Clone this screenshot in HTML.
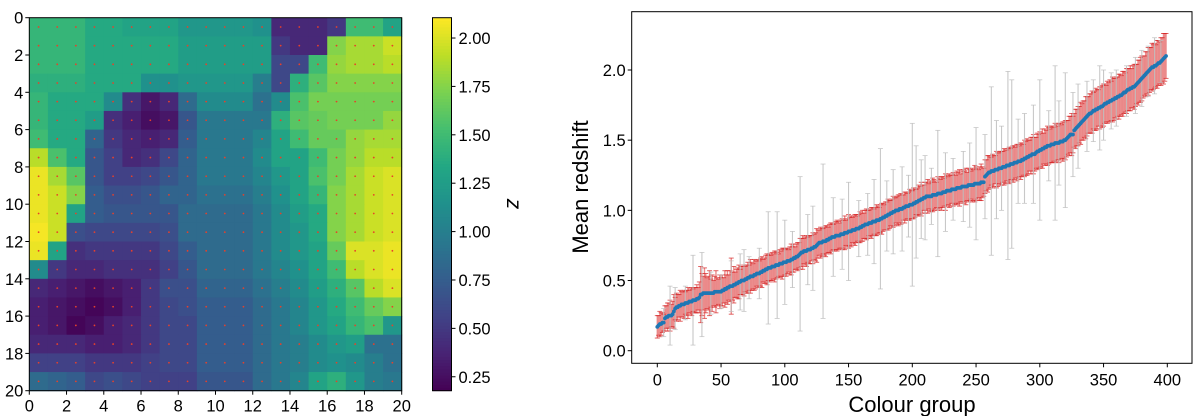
<!DOCTYPE html>
<html><head><meta charset="utf-8"><style>
html,body{margin:0;padding:0;background:#fff;}
svg{display:block;font-family:"Liberation Sans","DejaVu Sans",sans-serif;}
</style></head><body>
<svg id="fig" width="1200" height="416" viewBox="0 0 1200 416">
<g id="heat"></g>
<g id="cbar"></g>
<g id="right"></g>
</svg>
<script>
// ---------- heatmap data (rows 0..19 top->bottom, cols 0..19) ----------
const gridRows = [
[1.45,1.45,1.45,1.35,1.35,1.3,1.3,1.3,1.2,1.2,1.2,1.2,1.15,0.4,0.4,0.4,0.5,1.5,1.5,1.3],
[1.45,1.45,1.45,1.35,1.35,1.35,1.35,1.35,1.25,1.25,1.25,1.25,1.25,0.5,0.4,0.4,1.75,1.85,1.85,1.95],
[1.45,1.45,1.45,1.35,1.35,1.35,1.35,1.35,1.25,1.25,1.25,1.25,1.25,0.6,0.6,1.5,1.8,1.85,1.85,1.9],
[1.4,1.4,1.4,1.35,1.35,1.35,1.15,1.15,1.2,1.2,1.2,1.2,1.0,0.6,1.4,1.6,1.75,1.75,1.75,1.75],
[1.45,1.35,1.35,1.35,1.1,0.45,0.3,0.4,0.85,1.1,1.1,1.1,0.9,1.1,1.55,1.7,1.7,1.7,1.7,1.7],
[1.45,1.35,1.35,1.25,0.45,0.35,0.25,0.3,0.7,0.95,0.95,0.95,0.95,1.4,1.6,1.65,1.7,1.7,1.7,1.8],
[1.5,1.35,1.35,0.8,0.5,0.4,0.35,0.4,0.75,0.95,0.95,0.95,1.05,1.3,1.5,1.65,1.65,1.8,1.85,1.85],
[1.9,1.55,1.35,0.7,0.55,0.4,0.45,0.6,0.8,0.95,0.95,0.95,1.1,1.3,1.3,1.5,1.7,1.8,1.9,1.9],
[2.05,1.85,1.6,0.7,0.55,0.55,0.6,0.7,0.8,0.95,0.95,0.95,1.05,1.2,1.3,1.55,1.7,1.85,1.95,2.0],
[2.05,1.95,1.75,0.75,0.65,0.65,0.7,0.8,0.8,0.9,0.9,0.9,1.0,1.15,1.3,1.45,1.75,1.85,1.95,2.0],
[2.05,1.95,1.3,0.75,0.7,0.7,0.7,0.7,0.85,0.85,0.85,0.85,0.95,1.1,1.25,1.35,1.75,1.85,1.95,2.0],
[2.08,1.95,0.65,0.6,0.6,0.6,0.6,0.65,0.85,0.85,0.85,0.85,0.95,1.1,1.2,1.35,1.75,1.85,1.95,2.0],
[2.05,1.3,0.45,0.5,0.5,0.5,0.5,0.6,0.75,0.85,0.85,0.85,0.95,1.1,1.2,1.3,1.65,2.0,2.0,2.05],
[1.1,0.5,0.4,0.4,0.45,0.45,0.45,0.55,0.7,0.85,0.85,0.85,0.95,1.05,1.15,1.3,1.5,1.9,2.0,2.05],
[0.4,0.35,0.3,0.25,0.3,0.35,0.5,0.65,0.65,0.8,0.8,0.8,0.9,1.0,1.1,1.25,1.4,1.6,1.9,2.0],
[0.35,0.3,0.25,0.2,0.25,0.35,0.5,0.6,0.65,0.75,0.75,0.75,0.85,0.95,1.05,1.2,1.35,1.5,1.65,1.75],
[0.35,0.3,0.2,0.25,0.35,0.4,0.5,0.6,0.6,0.75,0.75,0.75,0.85,0.95,1.05,1.2,1.3,1.45,1.55,1.2],
[0.4,0.4,0.4,0.35,0.35,0.4,0.5,0.6,0.6,0.75,0.75,0.75,0.85,0.95,1.0,1.1,1.2,1.25,0.9,0.9],
[0.55,0.55,0.55,0.5,0.5,0.5,0.55,0.6,0.6,0.75,0.75,0.75,0.85,0.95,1.0,1.1,1.15,1.1,1.0,0.9],
[0.85,0.8,0.75,0.6,0.65,0.6,0.55,0.55,0.55,0.7,0.7,0.7,0.85,0.95,1.05,1.3,1.4,1.2,1.0,0.95]
];
const heatTicks = [0,2,4,6,8,10,12,14,16,18,20];
const cbarTicks = [0.25,0.5,0.75,1.0,1.25,1.5,1.75,2.0];
const cbarLabels = ["0.25","0.50","0.75","1.00","1.25","1.50","1.75","2.00"];

// ---------- right chart data ----------
const meanZ = [
0.17,0.18,0.19,0.19,0.2,0.2,0.23,0.24,0.24,0.25,
0.25,0.25,0.26,0.28,0.3,0.31,0.31,0.32,0.32,0.33,
0.33,0.33,0.34,0.34,0.34,0.35,0.35,0.35,0.36,0.36,
0.36,0.37,0.37,0.38,0.4,0.4,0.41,0.41,0.41,0.41,
0.41,0.41,0.41,0.41,0.41,0.42,0.42,0.42,0.42,0.42,
0.42,0.43,0.43,0.44,0.44,0.45,0.45,0.46,0.46,0.46,
0.47,0.47,0.48,0.48,0.49,0.49,0.5,0.5,0.5,0.51,
0.51,0.52,0.52,0.53,0.53,0.53,0.54,0.54,0.55,0.55,
0.55,0.56,0.56,0.57,0.57,0.58,0.58,0.59,0.59,0.59,
0.6,0.6,0.6,0.61,0.61,0.61,0.62,0.62,0.62,0.63,
0.63,0.63,0.64,0.64,0.64,0.65,0.65,0.66,0.66,0.67,
0.67,0.68,0.69,0.7,0.7,0.71,0.71,0.71,0.72,0.72,
0.72,0.73,0.73,0.74,0.74,0.75,0.76,0.77,0.77,0.77,
0.78,0.78,0.78,0.79,0.79,0.8,0.8,0.81,0.81,0.81,
0.82,0.82,0.82,0.82,0.83,0.83,0.83,0.84,0.84,0.84,
0.85,0.85,0.85,0.86,0.86,0.86,0.87,0.87,0.87,0.88,
0.88,0.89,0.89,0.9,0.9,0.9,0.91,0.91,0.91,0.92,
0.92,0.92,0.93,0.93,0.93,0.94,0.94,0.95,0.95,0.96,
0.96,0.97,0.97,0.98,0.98,0.99,0.99,1.0,1.0,1.0,
1.01,1.01,1.01,1.02,1.02,1.03,1.03,1.03,1.04,1.04,
1.04,1.05,1.05,1.06,1.06,1.07,1.07,1.08,1.08,1.09,
1.09,1.1,1.1,1.1,1.1,1.1,1.11,1.11,1.11,1.11,
1.12,1.12,1.12,1.12,1.13,1.13,1.13,1.14,1.14,1.14,
1.14,1.15,1.15,1.15,1.15,1.16,1.16,1.16,1.16,1.17,
1.17,1.17,1.17,1.17,1.18,1.18,1.18,1.18,1.18,1.19,
1.19,1.19,1.19,1.19,1.2,1.2,1.2,1.24,1.25,1.26,
1.27,1.27,1.28,1.28,1.28,1.29,1.29,1.29,1.3,1.3,
1.3,1.31,1.31,1.31,1.32,1.32,1.32,1.33,1.33,1.33,
1.34,1.34,1.34,1.35,1.35,1.35,1.36,1.36,1.37,1.37,
1.38,1.38,1.39,1.39,1.4,1.4,1.4,1.41,1.42,1.42,
1.43,1.43,1.44,1.44,1.45,1.45,1.46,1.46,1.46,1.47,
1.47,1.47,1.48,1.48,1.48,1.48,1.49,1.49,1.49,1.5,
1.5,1.51,1.52,1.53,1.54,1.54,1.54,1.57,1.58,1.59,
1.6,1.61,1.62,1.63,1.64,1.65,1.66,1.67,1.68,1.69,
1.69,1.7,1.71,1.71,1.72,1.72,1.73,1.73,1.74,1.74,
1.75,1.76,1.76,1.77,1.77,1.78,1.78,1.79,1.79,1.8,
1.8,1.81,1.81,1.82,1.82,1.83,1.84,1.84,1.85,1.86,
1.86,1.87,1.87,1.88,1.88,1.89,1.9,1.91,1.92,1.93,
1.94,1.95,1.96,1.97,1.98,1.99,2.0,2.01,2.02,2.02,
2.03,2.03,2.04,2.05,2.05,2.06,2.07,2.08,2.09,2.1
];
// red error half-widths, in hundredths of redshift (400 values)
const redErr = [
8,7,9,8,7,6,9,8,10,9, 11,8,9,12,8,10,9,8,11,9, 9,10,8,9,11,8,9,10,8,9,
9,10,8,11,20,15,12,18,14,11, 12,16,10,13,9,11,15,10,9,12, 10,11,9,13,10,12,9,11,20,10,
13,9,10,11,12,9,10,10,11,9, 10,11,9,12,10,9,11,10,9,10, 9,10,11,8,9,10,11,9,10,9,
10,9,11,10,9,8,10,9,11,10, 9,10,9,8,10,11,9,10,8,9, 10,9,11,10,12,9,10,11,9,10,
10,9,11,9,10,12,10,9,11,10, 9,10,11,10,9,10,11,10,9,10, 10,11,10,9,10,11,10,12,9,10,
12,10,11,9,10,11,10,9,10,11, 10,11,9,10,11,10,9,10,11,10, 9,10,11,10,9,10,11,10,9,10,
10,11,10,9,10,11,10,9,10,11, 10,11,10,9,11,10,9,10,11,10, 10,11,10,9,10,11,10,12,10,9,
11,10,12,9,11,10,12,11,10,9, 12,11,10,12,11,10,13,11,10,12, 11,10,12,11,10,12,11,13,10,11,
12,11,13,10,12,11,10,12,11,13, 12,11,10,12,13,11,10,12,11,13, 12,11,10,12,11,10,13,12,11,12,
12,11,13,12,11,12,13,11,12,13, 12,11,13,12,11,13,12,11,13,12, 13,12,11,13,12,14,12,11,13,12,
13,12,14,11,13,12,14,13,12,13, 13,12,14,13,12,14,13,12,14,13, 14,13,12,14,13,15,13,12,14,13,
14,13,15,13,14,13,15,14,13,14, 14,15,13,14,15,14,13,15,14,15, 15,14,13,15,14,15,14,16,15,14,
15,14,16,15,14,16,15,14,16,15, 15,16,14,15,16,15,14,16,15,16, 16,15,14,16,15,17,16,15,17,16,
16,15,17,16,15,17,16,18,17,16
];
const grayIdx = [5,10,14,22,28,35,42,50,58,65,68,72,80,87,94,100,106,112,118,122,130,138,145,150,158,165,170,175,180,185,192,197,200,203,207,210,215,220,226,232,240,245,250,257,262,266,270,275,278,283,288,295,300,307,312,315,320,326,330,337,342,347,350,356,360,368,375,380,385,390,395];
const grayErr = [10,21,15,12,32,30,15,12,18,20,22,15,18,40,38,30,20,55,25,30,55,28,25,35,20,22,30,50,25,30,30,22,58,40,28,30,20,45,28,22,25,30,40,30,60,35,30,67,60,30,32,35,50,25,55,30,48,30,30,25,22,30,25,20,20,18,20,20,18,20,15];
const xTicks = [0,50,100,150,200,250,300,350,400];
const yTicks = [0.0,0.5,1.0,1.5,2.0];

// ---------- helpers ----------
const NS = "http://www.w3.org/2000/svg";
function mk(parent, tag, attrs, text){
  const e = document.createElementNS(NS, tag);
  for (const k in attrs) e.setAttribute(k, attrs[k]);
  if (text !== undefined) e.textContent = text;
  parent.appendChild(e);
  return e;
}
const VIR = [[68,1,84],[72,35,116],[64,67,135],[52,94,141],[41,120,142],[32,144,140],[34,167,132],[68,190,112],[121,209,81],[189,222,38],[253,231,37]];
const VMIN = 0.178, VMAX = 2.105;
function viridis(v){
  let t = (v - VMIN) / (VMAX - VMIN); t = Math.max(0, Math.min(1, t));
  const p = t * (VIR.length - 1), i = Math.min(Math.floor(p), VIR.length - 2), f = p - i;
  const c = VIR[i].map((a, k) => Math.round(a + (VIR[i+1][k] - a) * f));
  return `rgb(${c[0]},${c[1]},${c[2]})`;
}
const FS = 16.5;

// ---------- heatmap ----------
const heat = document.getElementById('heat');
const HX0 = 29.3, HX1 = 401.7, HY0 = 17.7, HY1 = 390.7;
const hx = v => HX0 + (HX1 - HX0) * v / 20;
const hy = v => HY0 + (HY1 - HY0) * v / 20;
gridRows.forEach((row, r) => row.forEach((v, c) => {
  const cell = mk(heat, 'rect', {x: hx(c), y: hy(r), width: hx(c+1) - hx(c) + 0.5, height: hy(r+1) - hy(r) + 0.5, fill: viridis(v)});
  
  
}));
gridRows.forEach((row, r) => row.forEach((v, c) => {
  const d = mk(heat, 'circle', {cx: hx(c + 0.5), cy: hy(r + 0.5), r: 0.9, fill: '#e8402a'});
  
  
}));
const hf = mk(heat, 'rect', {x: HX0, y: HY0, width: HX1 - HX0, height: HY1 - HY0, fill: 'none', stroke: '#000', 'stroke-width': 1});


heatTicks.forEach(t => {
  mk(heat, 'line', {x1: hx(t), x2: hx(t), y1: HY1, y2: HY1 + 4, stroke: '#000'});
  const xl = mk(heat, 'text', {x: hx(t), y: HY1 + 21, 'font-size': FS, 'text-anchor': 'middle'}, String(t));
  
  
  mk(heat, 'line', {x1: HX0 - 4, x2: HX0, y1: hy(t), y2: hy(t), stroke: '#000'});
  const yl = mk(heat, 'text', {x: HX0 - 6, y: hy(t) + 6, 'font-size': FS, 'text-anchor': 'end'}, String(t));
  
  
});

// ---------- colorbar ----------
const cb = document.getElementById('cbar');
const CX0 = 432.5, CX1 = 451.5, CY0 = 17.7, CY1 = 390.7;
const cy = v => CY1 - (CY1 - CY0) * (v - VMIN) / (VMAX - VMIN);
for (let i = 0; i < 120; i++){
  const v0 = VMIN + (VMAX - VMIN) * i / 120, v1 = VMIN + (VMAX - VMIN) * (i + 1) / 120;
  mk(cb, 'rect', {x: CX0, y: cy(v1), width: CX1 - CX0, height: cy(v0) - cy(v1) + 0.4, fill: viridis((v0 + v1) / 2)});
}
mk(cb, 'rect', {x: CX0, y: CY0, width: CX1 - CX0, height: CY1 - CY0, fill: 'none', stroke: '#000', 'stroke-width': 1});
cbarTicks.forEach((t, i) => {
  mk(cb, 'line', {x1: CX1, x2: CX1 + 4, y1: cy(t), y2: cy(t), stroke: '#000'});
  const l = mk(cb, 'text', {x: CX1 + 7, y: cy(t) + 6, 'font-size': FS}, cbarLabels[i]);
  
  
});
const zl = mk(cb, 'text', {x: 0, y: 0, 'font-size': 21, 'font-style': 'italic', transform: 'translate(507,204) rotate(90)', 'text-anchor': 'middle'}, 'z');



// ---------- right chart ----------
const R = document.getElementById('right');
const RX0 = 631.7, RX1 = 1192, RY0 = 11.7, RY1 = 363.3;
const sx = g => 657.3 + g * (1167.3 - 657.3) / 400;
const sy = v => 350.7 - v * (350.7 - 70) / 2.0;
const redG = mk(R, 'g', {});


meanZ.forEach((m, i) => {
  const e = redErr[i] / 100;
  mk(redG, 'line', {x1: sx(i), x2: sx(i), y1: sy(m - e), y2: sy(m + e), stroke: 'rgba(228,100,100,0.75)', 'stroke-width': 1.4});
});
meanZ.forEach((m, i) => {
  const e = redErr[i] / 100;
  [m - e, m + e].forEach(v => mk(redG, 'line', {x1: sx(i) - 2.5, x2: sx(i) + 2.5, y1: sy(v), y2: sy(v), stroke: '#d62728', 'stroke-width': 1, opacity: 0.7}));
});
const grayG = mk(R, 'g', {});


grayIdx.forEach((g, k) => {
  const m = meanZ[g], e = grayErr[k] / 100;
  mk(grayG, 'line', {x1: sx(g), x2: sx(g), y1: sy(m - e), y2: sy(m + e), stroke: 'rgba(190,190,190,0.85)', 'stroke-width': 1.1});
  [m - e, m + e].forEach(v => mk(grayG, 'line', {x1: sx(g) - 2.5, x2: sx(g) + 2.5, y1: sy(v), y2: sy(v), stroke: 'rgba(190,190,190,0.85)', 'stroke-width': 0.8}));
});
const blueG = mk(R, 'g', {});


meanZ.forEach((m, i) => {
  mk(blueG, 'circle', {cx: sx(i), cy: sy(m), r: 1.9, fill: '#1f77b4'});
});
const rf = mk(R, 'rect', {x: RX0, y: RY0, width: RX1 - RX0, height: RY1 - RY0, fill: 'none', stroke: '#000', 'stroke-width': 1});


xTicks.forEach(t => {
  mk(R, 'line', {x1: sx(t), x2: sx(t), y1: RY1, y2: RY1 + 4, stroke: '#000'});
  const l = mk(R, 'text', {x: sx(t), y: RY1 + 22, 'font-size': FS, 'text-anchor': 'middle'}, String(t));
  
  
});
yTicks.forEach(t => {
  mk(R, 'line', {x1: RX0 - 4, x2: RX0, y1: sy(t), y2: sy(t), stroke: '#000'});
  const l = mk(R, 'text', {x: RX0 - 6, y: sy(t) + 6, 'font-size': FS, 'text-anchor': 'end'}, t.toFixed(1));
  
  
});
const xt = mk(R, 'text', {x: 912, y: 412, 'font-size': 22, 'text-anchor': 'middle'}, 'Colour group');


const yt = mk(R, 'text', {x: 0, y: 0, 'font-size': 22, 'text-anchor': 'middle', transform: 'translate(588,187) rotate(-90)'}, 'Mean redshift');


</script>
</body></html>
